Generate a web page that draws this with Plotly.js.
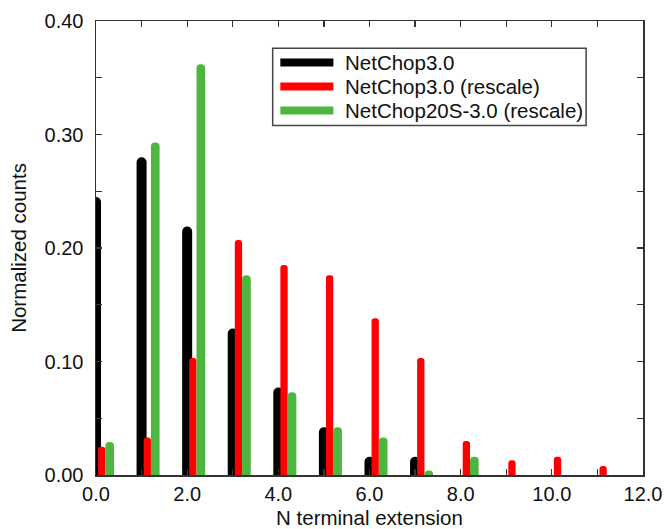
<!DOCTYPE html>
<html>
<head>
<meta charset="utf-8">
<script src="https://cdn.plot.ly/plotly-3.0.1.min.js"></script>
<style>
  html, body { margin: 0; padding: 0; background: #fff; }
  #chart { width: 665px; height: 529px; }
</style>
</head>
<body>
<div id="chart"></div>
<script>
// N terminal extension positions
const extension = [0, 1, 2, 3, 4, 5, 6, 7, 8, 9, 10, 11];
// Normalized counts per series
const netChop30 = [0.245, 0.280, 0.219, 0.129, 0.077, 0.042, 0.016, 0.016, null, null, null, null];
const netChop30Rescale = [0.025, 0.033, 0.103, 0.207, 0.185, 0.176, 0.138, 0.103, 0.030, 0.013, 0.016, 0.008];
const netChop20SRescale = [0.029, 0.293, 0.362, 0.176, 0.073, 0.042, 0.033, 0.004, 0.016, null, null, null];
const seriesNames = ['NetChop3.0', 'NetChop3.0 (rescale)', 'NetChop20S-3.0 (rescale)'];
const xTickVals = [0, 2, 4, 6, 8, 10, 12];
const yTickVals = [0, 0.1, 0.2, 0.3, 0.4];

const colors = ['#000000', '#ff0000', '#4cb63e'];
const FONT = 'Liberation Sans, Arial, Helvetica, sans-serif';

const barTraces = [
  {y: netChop30, offset: -0.11, width: 0.22, color: colors[0]},
  {y: netChop30Rescale, offset: 0.045, width: 0.16, color: colors[1]},
  {y: netChop20SRescale, offset: 0.205, width: 0.19, color: colors[2]}
].map((s, i) => ({
  type: 'bar',
  name: seriesNames[i],
  x: extension,
  y: s.y,
  offset: s.offset,
  width: s.width,
  marker: {color: s.color, line: {width: 0}, cornerradius: '50%'},
  showlegend: false
}));

// Legend drawn as a framed box (paper coordinates of the plot area)
const leg = {x0: 0.323, x1: 0.896, y0: 0.770, y1: 0.940, lx0: 0.337, lx1: 0.434, tx: 0.4516, rows: [0.9085, 0.8557, 0.8030]};
const shapes = [{
  type: 'rect', xref: 'paper', yref: 'paper',
  x0: leg.x0, x1: leg.x1, y0: leg.y0, y1: leg.y1,
  line: {color: '#444', width: 1.5}, fillcolor: '#fff', layer: 'above'
}];
const annotations = [];
seriesNames.forEach((name, i) => {
  shapes.push({
    type: 'line', xref: 'paper', yref: 'paper',
    x0: leg.lx0, x1: leg.lx1, y0: leg.rows[i], y1: leg.rows[i],
    line: {color: colors[i], width: 8}, layer: 'above'
  });
  annotations.push({
    xref: 'paper', yref: 'paper', x: leg.tx, y: leg.rows[i],
    xanchor: 'left', yanchor: 'middle', showarrow: false,
    text: name, font: {family: FONT, size: 20.5, color: '#111'}
  });
});

const axisCommon = {
  showline: true,
  linecolor: '#333',
  linewidth: 1.5,
  mirror: 'allticks',
  ticks: 'inside',
  ticklen: 6,
  tickwidth: 1.2,
  tickcolor: '#333',
  showgrid: false,
  zeroline: false,
  tickfont: {family: FONT, size: 20, color: '#111'}
};

const layout = {
  width: 665,
  height: 529,
  margin: {l: 96, r: 22, t: 21, b: 54},
  paper_bgcolor: '#fff',
  plot_bgcolor: '#fff',
  barmode: 'overlay',
  showlegend: false,
  shapes: shapes,
  annotations: annotations,
  xaxis: Object.assign({}, axisCommon, {
    range: [0, 12],
    tickvals: xTickVals,
    tickformat: '.1f',
    minor: {dtick: 1, ticks: 'inside', ticklen: 6, tickcolor: '#333', tickwidth: 1.2},
    title: {text: 'N terminal extension', font: {family: FONT, size: 20.5, color: '#111'}, standoff: 8}
  }),
  yaxis: Object.assign({}, axisCommon, {
    range: [0, 0.40],
    tickvals: yTickVals,
    tickformat: '.2f',
    ticklabelstandoff: 7,
    minor: {dtick: 0.05, ticks: 'inside', ticklen: 6, tickcolor: '#333', tickwidth: 1.2},
    title: {text: 'Normalized counts', font: {family: FONT, size: 20.5, color: '#111'}, standoff: 12}
  })
};

Plotly.newPlot('chart', barTraces, layout, {displayModeBar: false, staticPlot: true});
</script>
</body>
</html>
